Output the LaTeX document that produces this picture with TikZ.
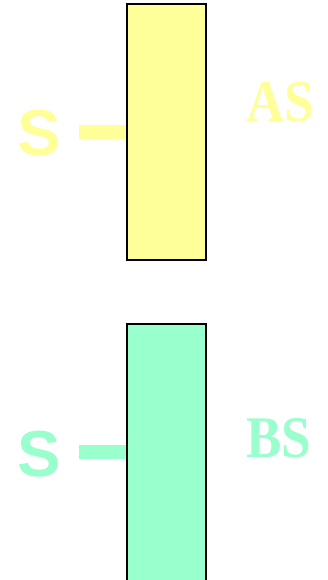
\documentclass[tikz,border=0pt]{standalone}
\usepackage{fontspec}
\setmainfont{Liberation Serif}
\newfontfamily\sansfnt{Liberation Sans}
\definecolor{paleyellow}{HTML}{FFFF99}
\definecolor{palegreen}{HTML}{99FFCC}

\begin{document}
\begin{tikzpicture}[x=1pt,y=-1pt,line cap=butt,line join=miter,every node/.style={inner sep=0pt}]
  \useasboundingbox (0,0) rectangle (328,580);
  \tikzset{
    strip/.style={draw=black,line width=2pt,minimum width=79pt,minimum height=256pt},
    letter/.style={font=\sansfnt\bfseries\fontsize{65}{65}\selectfont,anchor=base},
    tag/.style={font=\bfseries\fontsize{59}{59}\selectfont,anchor=base},
    lead/.style={line width=14pt}
  }
  % 上方条
  \node[strip,fill=paleyellow] (stripA) at (166.5,132) {};
  \node[letter,text=paleyellow] (sA) at (39,156) {S};
  \coordinate (leadA) at (79,132);
  \draw[lead,paleyellow] (leadA) -- (leadA -| stripA.west);
  \node[tag,text=paleyellow] (tagA) at (280,122) {\scalebox{0.9}[1]{AS}};
  % 下方条，底边在画面之外
  \node[strip,fill=palegreen,minimum height=260pt] (stripB) at (166.5,454) {};
  \node[letter,text=palegreen] (sB) at (39,476) {S};
  \coordinate (leadB) at (79,452);
  \draw[lead,palegreen] (leadB) -- (leadB -| stripB.west);
  \node[tag,text=palegreen] (tagB) at (279,457) {\scalebox{0.9}[1]{BS}};
\end{tikzpicture}
\end{document}
